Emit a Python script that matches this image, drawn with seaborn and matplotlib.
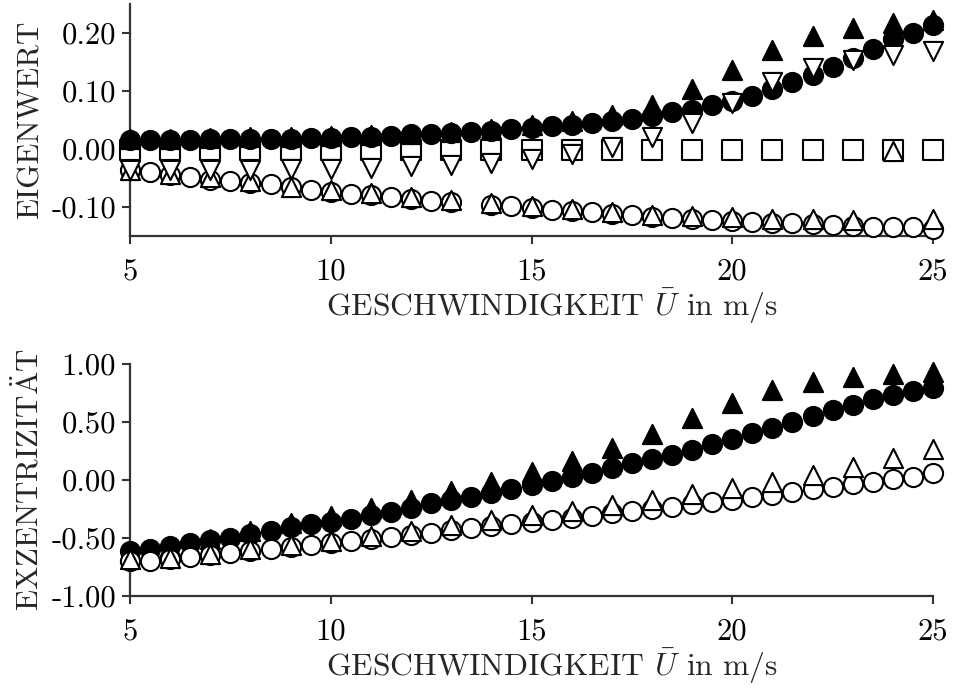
import numpy as np
import pandas as pd
import matplotlib
matplotlib.use("Agg")
import matplotlib.pyplot as plt
import seaborn as sns

# Wind speed grid (m/s)
speed_half = np.arange(5.0, 25.01, 0.5)
speed_int = np.arange(5, 26, 1)

# Upper panel: eigenvalues
eig_filled_circle = [0.016, 0.016, 0.016, 0.016, 0.017, 0.017, 0.017, 0.018, 0.018, 0.019,
                     0.019, 0.020, 0.021, 0.023, 0.025, 0.026, 0.027, 0.029, 0.031, 0.034,
                     0.037, 0.040, 0.042, 0.044, 0.048, 0.052, 0.057, 0.063, 0.068, 0.075,
                     0.083, 0.092, 0.103, 0.115, 0.127, 0.141, 0.157, 0.173, 0.190, 0.200,
                     0.213]
eig_filled_tri = [0.018, 0.018, 0.019, 0.020, 0.021, 0.022, 0.024, 0.026, 0.030, 0.035,
                  0.041, 0.048, 0.059, 0.076, 0.103, 0.137, 0.171, 0.194, 0.209, 0.218,
                  0.223]
eig_square = [-0.002, -0.002, -0.002, -0.002, -0.002, -0.002, -0.002, -0.002, -0.001, -0.001,
              -0.001, -0.001, -0.001, -0.001, -0.001, -0.002, -0.002, -0.002, -0.002, -0.002,
              -0.002]
eig_down_tri = [-0.037, -0.037, -0.036, -0.036, -0.035, -0.034, -0.033, -0.030, -0.028, -0.024,
                -0.018, -0.009, 0.003, 0.020, 0.045, 0.080, 0.115, 0.139, 0.154, 0.162,
                0.169]
eig_open_circle = [-0.037, -0.040, -0.045, -0.049, -0.053, -0.056, -0.058, -0.061, -0.066, -0.070,
                   -0.074, -0.078, -0.080, -0.083, -0.086, -0.089, -0.092, np.nan, -0.097, -0.099,
                   -0.102, -0.105, -0.107, -0.109, -0.112, -0.114, -0.117, -0.119, -0.121, -0.122,
                   -0.124, -0.126, -0.127, -0.128, -0.130, -0.131, -0.133, -0.134, -0.135, -0.135,
                   -0.138]
eig_up_tri = [-0.037, -0.043, -0.049, -0.056, -0.065, -0.070, -0.076, -0.082, -0.088, -0.093,
              -0.098, -0.104, -0.109, -0.113, -0.115, -0.117, -0.120, -0.121, -0.122, -0.003,
              -0.121]

# Lower panel: eccentricity
ecc_filled_circle = [-0.610, -0.597, -0.570, -0.540, -0.520, -0.497, -0.467, -0.437, -0.408, -0.379,
                     -0.360, -0.339, -0.305, -0.273, -0.237, -0.201, -0.172, -0.144, -0.111, -0.078,
                     -0.042, -0.006, 0.028, 0.063, 0.103, 0.144, 0.183, 0.220, 0.263, 0.310,
                     0.356, 0.402, 0.452, 0.503, 0.553, 0.603, 0.649, 0.695, 0.733, 0.770,
                     0.796]
ecc_filled_tri = [-0.632, -0.569, -0.506, -0.440, -0.373, -0.310, -0.244, -0.175, -0.098, -0.017,
                  0.069, 0.166, 0.273, 0.393, 0.533, 0.668, 0.776, 0.841, 0.884, 0.912,
                  0.933]
ecc_open_circle = [-0.700, -0.696, -0.680, -0.667, -0.645, -0.627, -0.612, -0.598, -0.578, -0.560,
                   -0.543, -0.526, -0.507, -0.489, -0.470, -0.454, -0.435, -0.417, -0.398, -0.379,
                   -0.362, -0.345, -0.327, -0.310, -0.287, -0.264, -0.247, -0.230, -0.208, -0.187,
                   -0.168, -0.149, -0.125, -0.101, -0.080, -0.058, -0.036, -0.015, 0.006, 0.029,
                   0.057]
ecc_open_tri = [-0.684, -0.668, -0.637, -0.597, -0.560, -0.524, -0.482, -0.437, -0.390, -0.345,
                -0.305, -0.263, -0.218, -0.175, -0.122, -0.065, -0.013, 0.047, 0.114, 0.191,
                0.270]

x_ticks = [5, 10, 15, 20, 25]
x_tick_labels = ["5", "10", "15", "20", "25"]
eig_ticks = [0.20, 0.10, 0.00, -0.10]
eig_tick_labels = ["0.20", "0.10", "0.00", "-0.10"]
ecc_ticks = [1.00, 0.50, 0.00, -0.50, -1.00]
ecc_tick_labels = ["1.00", "0.50", "0.00", "-0.50", "-1.00"]

x_label = r"GESCHWINDIGKEIT $\bar{U}$ in m/s"
eig_label = "EIGENWERT"
ecc_label = r"EXZENTRIZIT$\mathrm{\ddot{A}}$T"

sns.set_theme(style="ticks")
plt.rcParams["font.family"] = ["cmr10", "DejaVu Serif"]
plt.rcParams["mathtext.fontset"] = "cm"
plt.rcParams["axes.unicode_minus"] = False

FS_TICK = 22
FS_XLABEL = 22.7
FS_YLABEL = 22.3
SPINE = "#333333"
MS = 190
LW = 1.5

fig = plt.figure(figsize=(9.54, 6.90), dpi=100)
ax_top = fig.add_axes([0.1363, 0.6580, 0.8417, 0.3362])
ax_bot = fig.add_axes([0.1363, 0.1362, 0.8417, 0.3362])


def draw(ax, x, y, marker, filled, z):
    df = pd.DataFrame({"speed": x, "value": y}).dropna()
    sns.scatterplot(data=df, x="speed", y="value", ax=ax, marker=marker, s=MS,
                    color="black" if filled else "white", edgecolor="black",
                    linewidth=LW, clip_on=False, zorder=z, legend=False)


draw(ax_top, speed_int, eig_square, "s", False, 3)
draw(ax_top, speed_half, eig_filled_circle, "o", True, 4)
draw(ax_top, speed_int, eig_filled_tri, "^", True, 4)
draw(ax_top, speed_half, eig_open_circle, "o", False, 5)
draw(ax_top, speed_int, eig_up_tri, "^", False, 6)
draw(ax_top, speed_int, eig_down_tri, "v", False, 7)

draw(ax_bot, speed_half, ecc_filled_circle, "o", True, 4)
draw(ax_bot, speed_int, ecc_filled_tri, "^", True, 4)
draw(ax_bot, speed_half, ecc_open_circle, "o", False, 5)
draw(ax_bot, speed_int, ecc_open_tri, "^", False, 6)

for ax, lim, ticks, labels, ylab in [
    (ax_top, (-0.15, 0.25), eig_ticks, eig_tick_labels, eig_label),
    (ax_bot, (-1.0, 1.0), ecc_ticks, ecc_tick_labels, ecc_label),
]:
    ax.set_xlim(5, 25)
    ax.set_ylim(*lim)
    ax.set_xticks(x_ticks)
    ax.set_xticklabels(x_tick_labels)
    ax.set_yticks(ticks)
    ax.set_yticklabels(labels)
    ax.set_xlabel(x_label, fontsize=FS_XLABEL, labelpad=1)
    ax.xaxis.label.set_x(0.526)
    ax.set_ylabel(ylab, fontsize=FS_YLABEL, labelpad=5)
    ax.tick_params(axis="y", labelsize=FS_TICK, length=6, width=1.5, color=SPINE,
                   labelcolor="black", pad=4)
    ax.tick_params(axis="x", labelsize=FS_TICK, length=6, width=1.5, color=SPINE,
                   labelcolor="black", pad=10)
    sns.despine(ax=ax)
    for side in ("left", "bottom"):
        ax.spines[side].set_linewidth(1.6)
        ax.spines[side].set_color(SPINE)

fig.savefig("out.png", dpi=100)
